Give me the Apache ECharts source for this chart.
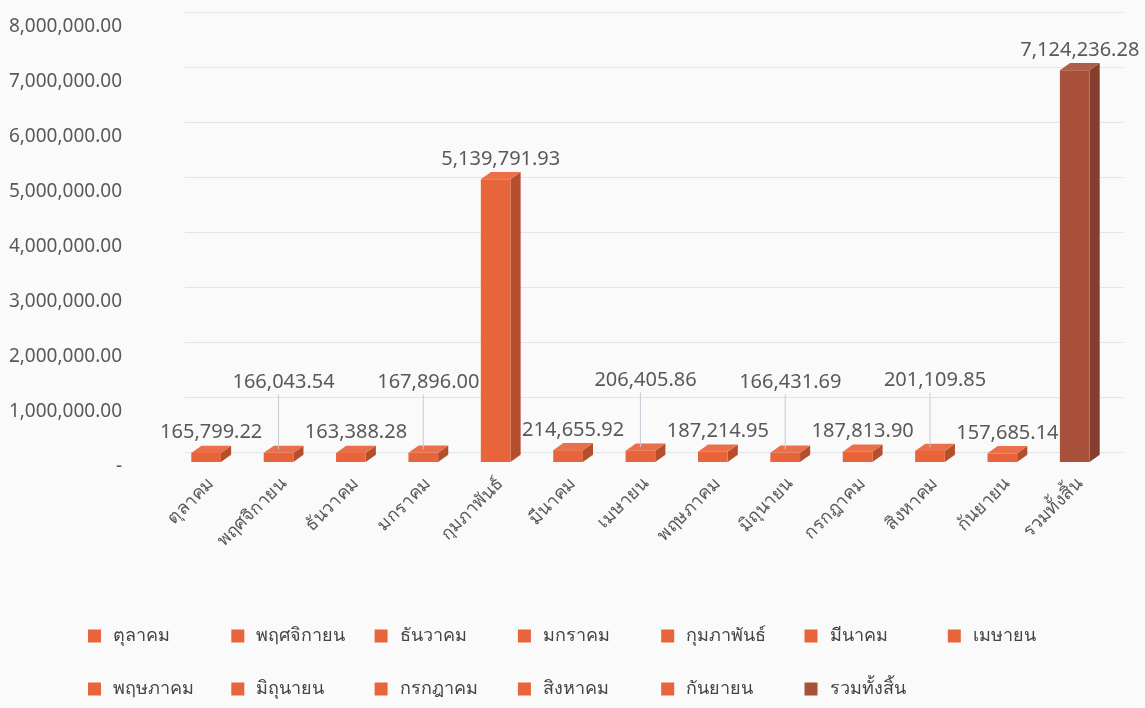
<!DOCTYPE html>
<html>
<head>
<meta charset="utf-8">
<script src="https://cdn.jsdelivr.net/npm/echarts@6/dist/echarts.min.js"></script>
<style>
  html, body { margin: 0; padding: 0; background: #fafafa; }
  #chart { width: 1145px; height: 708px; }
</style>
</head>
<body>
<div id="chart"></div>
<script>
// categories (months) and amounts
const categories = ['ตุลาคม', 'พฤศจิกายน', 'ธันวาคม', 'มกราคม', 'กุมภาพันธ์', 'มีนาคม', 'เมษายน',
  'พฤษภาคม', 'มิถุนายน', 'กรกฎาคม', 'สิงหาคม', 'กันยายน', 'รวมทั้งสิ้น'];
const amounts = [165799.22, 166043.54, 163388.28, 167896.00, 5139791.93, 214655.92, 206405.86,
  187214.95, 166431.69, 187813.90, 201109.85, 157685.14, 7124236.28];
const yMin = 0;
const yMax = 8000000;
const yStep = 1000000;

// labels that sit higher with a leader line
const liftedLabels = [1, 3, 6, 8, 10];
const orange = '#E8643A';
const brown = '#A8503A';
const textColor = '#595959';

function money(v) {
  if (v === 0) return '-';
  return v.toLocaleString('en-US', { minimumFractionDigits: 2, maximumFractionDigits: 2 });
}

// scale rgb towards black (f<1) or white (f>1)
function shade(hex, f) {
  var n = parseInt(hex.slice(1), 16);
  var rgb = [(n >> 16) & 255, (n >> 8) & 255, n & 255].map(function (c) {
    return f < 1 ? Math.round(c * f) : Math.round(c + (255 - c) * (f - 1));
  });
  return 'rgb(' + rgb.join(',') + ')';
}

// 3D-ish box with its value label (boxes sit a little back from the axis, like the depth view)
function renderBox(params, api) {
  var idx = api.value(0);
  var val = api.value(1);
  var back = 5;
  var top = api.coord([idx, val]);
  var base = api.coord([idx, 0]);
  top[1] -= back;
  base[1] -= back;
  var band = api.size([1, 0])[0];
  var w = band * 0.41;
  var dx = band * 0.14;
  var dy = band * 0.1;
  var x0 = top[0] - (w + dx) / 2;
  var x1 = x0 + w;
  var color = idx === categories.length - 1 ? brown : orange;
  var children = [
    { type: 'polygon', shape: { points: [[x1, top[1]], [x1 + dx, top[1] - dy], [x1 + dx, base[1] - dy], [x1, base[1]]] },
      style: { fill: shade(color, 0.78) } },
    { type: 'polygon', shape: { points: [[x0, top[1]], [x0 + dx, top[1] - dy], [x1 + dx, top[1] - dy], [x1, top[1]]] },
      style: { fill: shade(color, 1.08) } },
    { type: 'rect', shape: { x: x0, y: top[1], width: w, height: base[1] - top[1] },
      style: { fill: color } }
  ];
  var cx = (x0 + x1) / 2;
  var lifted = liftedLabels.indexOf(idx) >= 0;
  var labelBottom = top[1] - dy - (lifted ? 53 : 3);
  if (lifted) {
    children.push({ type: 'line', shape: { x1: cx, y1: labelBottom + 2, x2: cx, y2: top[1] - dy / 2 },
      style: { stroke: '#C9C9D6', lineWidth: 1 } });
  }
  children.push({ type: 'text', style: {
    text: money(val), x: (x0 + x1 + dx) / 2, y: labelBottom, align: 'center', verticalAlign: 'bottom',
    fill: textColor, font: '20px "Noto Sans", sans-serif' } });
  return { type: 'group', children: children };
}

var chart = echarts.init(document.getElementById('chart'));

var series = categories.map(function (name, i) {
  return {
    type: 'custom',
    name: name,
    xAxisIndex: 0,
    yAxisIndex: 0,
    encode: { x: 0, y: 1 },
    itemStyle: { color: i === categories.length - 1 ? brown : orange },
    renderItem: renderBox,
    data: [[i, amounts[i]]]
  };
});

// one legend per item so every entry sits on a fixed pitch, 7 per row
var legends = categories.map(function (name, i) {
  return {
    left: 83 + (i % 7) * 143.3,
    top: i < 7 ? 622 : 675,
    data: [name],
    itemWidth: 13,
    itemHeight: 13,
    icon: 'rect',
    selectedMode: false,
    textStyle: { color: '#444', fontSize: 18, padding: [0, 0, 0, 7], fontFamily: 'Noto Sans, sans-serif' }
  };
});

chart.setOption({
  backgroundColor: '#fafafa',
  animation: false,
  grid: [
    { left: 175, right: 29, top: 27, bottom: 241 },
    { left: 185, right: 22, top: 12, bottom: 256 }
  ],
  legend: legends,
  xAxis: [
    {
      type: 'category',
      gridIndex: 0,
      data: categories,
      axisLine: { show: false },
      axisTick: { show: false },
      axisLabel: { rotate: 45, margin: 14, color: textColor, fontSize: 18, interval: 0 }
    },
    {
      type: 'category',
      gridIndex: 1,
      data: categories,
      show: false
    }
  ],
  yAxis: [
    {
      type: 'value',
      gridIndex: 0,
      min: yMin,
      max: yMax,
      interval: yStep,
      axisLine: { show: false },
      axisTick: { show: false },
      splitLine: { show: false },
      axisLabel: { formatter: money, color: textColor, fontSize: 19, margin: 53, fontFamily: 'Noto Sans, sans-serif' }
    },
    {
      type: 'value',
      gridIndex: 1,
      min: yMin,
      max: yMax,
      interval: yStep,
      axisLine: { show: false },
      axisTick: { show: false },
      axisLabel: { show: false },
      splitLine: { lineStyle: { color: '#E3E3EA' } }
    }
  ],
  series: series
});
</script>
</body>
</html>
